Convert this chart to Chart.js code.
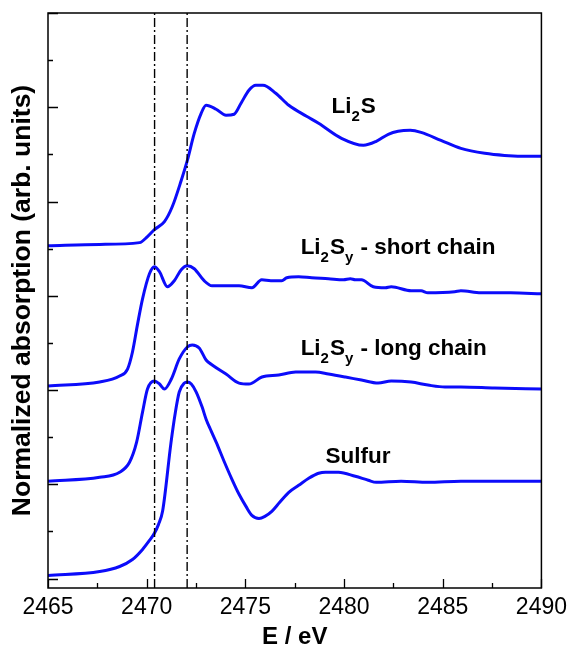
<!DOCTYPE html>
<html>
<head>
<meta charset="utf-8">
<script src="https://cdn.jsdelivr.net/npm/chart.js@4"></script>
<style>
    body { margin: 0; background: #fff; }
    #chart { display: block; }
</style>
</head>
<body>
<canvas id="chart" width="573" height="652"></canvas>
<script>
// energy axis (eV) and tick values
const xTicks = [2465, 2470, 2475, 2480, 2485, 2490];
const xMinorTicks = [2467.5, 2472.5, 2477.5, 2482.5, 2487.5];
const yTicks = [0, 1, 2, 3, 4, 5, 6];
const yMinorTicks = [0.5, 1.5, 2.5, 3.5, 4.5, 5.5];
const edgeLines = [2470.4, 2472.05];

// Li2S
const li2sE = [2465.00, 2467.62, 2469.64, 2470.04, 2470.39, 2470.90, 2471.30, 2471.75, 2472.06, 2472.41, 2472.76, 2473.01, 2473.52, 2474.02, 2474.43, 2474.78, 2475.18, 2475.53, 2475.89, 2476.54, 2477.20, 2478.10, 2478.71, 2479.87, 2480.98, 2481.63, 2482.24, 2482.74, 2483.35, 2483.90, 2484.91, 2485.92, 2487.13, 2488.13, 2489.45, 2490.00];
const li2sY = [3.53, 3.545, 3.564, 3.628, 3.702, 3.787, 3.947, 4.223, 4.436, 4.723, 4.936, 5.021, 4.979, 4.915, 4.926, 5.043, 5.181, 5.234, 5.234, 5.149, 5.021, 4.904, 4.830, 4.670, 4.596, 4.638, 4.713, 4.745, 4.755, 4.734, 4.649, 4.564, 4.511, 4.489, 4.479, 4.479];

// Li2Sy - short chain
const shortE = [2465.00, 2467.62, 2468.63, 2469.03, 2469.28, 2469.54, 2469.79, 2470.14, 2470.39, 2470.65, 2471.05, 2471.40, 2471.75, 2472.06, 2472.41, 2472.91, 2473.31, 2474.17, 2474.68, 2475.33, 2475.83, 2476.29, 2476.84, 2477.10, 2477.70, 2478.36, 2479.21, 2479.97, 2480.32, 2480.57, 2480.88, 2481.48, 2482.09, 2482.39, 2483.40, 2483.90, 2484.25, 2485.61, 2485.92, 2486.93, 2488.44, 2490.00];
const shortY = [2.043, 2.085, 2.149, 2.223, 2.404, 2.702, 2.968, 3.234, 3.309, 3.255, 3.096, 3.160, 3.277, 3.319, 3.287, 3.160, 3.106, 3.106, 3.106, 3.085, 3.170, 3.160, 3.160, 3.191, 3.202, 3.191, 3.181, 3.170, 3.181, 3.170, 3.170, 3.096, 3.085, 3.096, 3.053, 3.053, 3.032, 3.043, 3.053, 3.032, 3.032, 3.021];

// Li2Sy - long chain
const longE = [2465.00, 2467.62, 2468.63, 2469.13, 2469.49, 2469.79, 2470.04, 2470.39, 2470.65, 2470.90, 2471.25, 2471.65, 2472.06, 2472.31, 2472.66, 2473.01, 2473.32, 2474.02, 2474.68, 2475.18, 2475.84, 2476.69, 2477.55, 2478.56, 2479.21, 2480.07, 2480.88, 2481.73, 2482.39, 2483.40, 2484.25, 2485.11, 2485.92, 2487.63, 2490.00];
const longY = [1.032, 1.074, 1.128, 1.234, 1.447, 1.766, 2.011, 2.096, 2.064, 2.011, 2.117, 2.330, 2.457, 2.479, 2.447, 2.319, 2.266, 2.170, 2.074, 2.064, 2.138, 2.160, 2.191, 2.191, 2.170, 2.138, 2.106, 2.074, 2.096, 2.085, 2.053, 2.032, 2.032, 2.021, 2.011];

// Sulfur
const sulfurE = [2465.00, 2467.62, 2468.63, 2469.28, 2469.79, 2470.14, 2470.39, 2470.60, 2470.81, 2471.23, 2471.45, 2471.65, 2471.91, 2472.06, 2472.26, 2472.51, 2472.81, 2473.01, 2473.27, 2473.52, 2473.92, 2474.32, 2474.68, 2475.03, 2475.33, 2475.69, 2475.99, 2476.34, 2476.74, 2477.20, 2477.70, 2478.21, 2478.71, 2479.06, 2479.72, 2480.57, 2481.23, 2481.63, 2482.89, 2484.25, 2485.92, 2487.63, 2490.00];
const sulfurY = [0.032, 0.074, 0.128, 0.202, 0.309, 0.404, 0.480, 0.575, 0.720, 1.440, 1.760, 1.979, 2.074, 2.085, 2.064, 1.979, 1.819, 1.691, 1.564, 1.447, 1.245, 1.053, 0.894, 0.766, 0.670, 0.638, 0.660, 0.713, 0.809, 0.915, 0.989, 1.064, 1.117, 1.128, 1.128, 1.085, 1.043, 1.021, 1.032, 1.021, 1.032, 1.032, 1.032];

const FONT = '"Liberation Sans", Arial, sans-serif';
const BLUE = 'rgb(12,12,250)';

function toPoints(xs, ys) {
    return xs.map((x, i) => ({ x: x, y: ys[i] }));
}

function curve(xs, ys) {
    return {
        data: toPoints(xs, ys),
        borderColor: BLUE,
        borderWidth: 3,
        pointRadius: 0,
        cubicInterpolationMode: 'monotone',
        fill: false,
        order: 2
    };
}

const edgeSets = edgeLines.map(e => ({
    data: [{ x: e, y: -0.1 }, { x: e, y: 6 }],
    borderColor: '#000',
    borderWidth: 1.4,
    borderDash: [9, 3, 2, 3],
    pointRadius: 0,
    fill: false,
    order: 1
}));

// sample labels, anchored in data units
const labels = [
    { x: 2479.36, y: 4.94, parts: [['Li'], ['2', 'sub'], ['S']] },
    { x: 2477.80, y: 3.44, parts: [['Li'], ['2', 'sub'], ['S'], ['y', 'sub'], [' - short chain']] },
    { x: 2477.80, y: 2.37, parts: [['Li'], ['2', 'sub'], ['S'], ['y', 'sub'], [' - long chain']] },
    { x: 2479.06, y: 1.23, parts: [['Sulfur']] }
];

const framePlugin = {
    id: 'frame',
    afterDraw(chart) {
        const c = chart.ctx;
        const a = chart.chartArea;
        const xs = chart.scales.x;
        const ys = chart.scales.y;
        c.save();
        c.strokeStyle = '#000';
        c.lineWidth = 1.5;
        c.strokeRect(a.left, a.top, a.right - a.left, a.bottom - a.top);

        c.lineWidth = 1.3;
        c.beginPath();
        xTicks.forEach(v => {
            const px = Math.round(xs.getPixelForValue(v)) + 0.5;
            c.moveTo(px, a.bottom); c.lineTo(px, a.bottom - 9);
        });
        xMinorTicks.forEach(v => {
            const px = Math.round(xs.getPixelForValue(v)) + 0.5;
            c.moveTo(px, a.bottom); c.lineTo(px, a.bottom - 5);
        });
        yTicks.forEach(v => {
            const py = Math.round(ys.getPixelForValue(v)) + 0.5;
            c.moveTo(a.left, py); c.lineTo(a.left + 10, py);
        });
        yMinorTicks.forEach(v => {
            const py = Math.round(ys.getPixelForValue(v)) + 0.5;
            c.moveTo(a.left, py); c.lineTo(a.left + 5, py);
        });
        c.stroke();

        c.fillStyle = '#000';
        c.textBaseline = 'alphabetic';
        c.textAlign = 'left';
        labels.forEach(l => {
            let px = xs.getPixelForValue(l.x);
            const py = ys.getPixelForValue(l.y);
            l.parts.forEach(p => {
                const sub = p[1] === 'sub';
                c.font = sub ? 'bold 15px ' + FONT : 'bold 22.5px ' + FONT;
                c.fillText(p[0], px, sub ? py + 8 : py);
                px += c.measureText(p[0]).width + (sub ? 1 : 0);
            });
        });
        c.restore();
    }
};

const ctx = document.getElementById('chart');
new Chart(ctx, {
    type: 'line',
    data: {
        datasets: [
            ...edgeSets,
            curve(li2sE, li2sY),
            curve(shortE, shortY),
            curve(longE, longY),
            curve(sulfurE, sulfurY)
        ]
    },
    options: {
        responsive: false,
        animation: false,
        layout: { padding: { top: 13, right: 29, left: 0, bottom: 0 } },
        plugins: {
            legend: { display: false },
            tooltip: { enabled: false }
        },
        scales: {
            x: {
                type: 'linear',
                min: 2465,
                max: 2490,
                afterBuildTicks: s => { s.ticks = xTicks.map(v => ({ value: v })); },
                afterFit: s => { s.height = 64; },
                grid: { display: false, drawTicks: false },
                border: { display: false },
                ticks: {
                    color: '#000',
                    padding: 6,
                    maxRotation: 0,
                    font: { family: FONT, size: 23 },
                    callback: v => String(v)
                },
                title: {
                    display: true,
                    text: 'E / eV',
                    color: '#000',
                    font: { family: FONT, size: 24, weight: 'bold' },
                    padding: { top: 0, bottom: 0 }
                }
            },
            y: {
                type: 'linear',
                min: -0.1,
                max: 6,
                afterFit: s => { s.width = 48; },
                grid: { display: false, drawTicks: false },
                border: { display: false },
                ticks: { display: false },
                title: {
                    display: true,
                    text: 'Normalized absorption (arb. units)',
                    color: '#000',
                    font: { family: FONT, size: 26.5, weight: 'bold' },
                    padding: { top: 7, bottom: 0 }
                }
            }
        }
    },
    plugins: [framePlugin]
});
</script>
</body>
</html>
